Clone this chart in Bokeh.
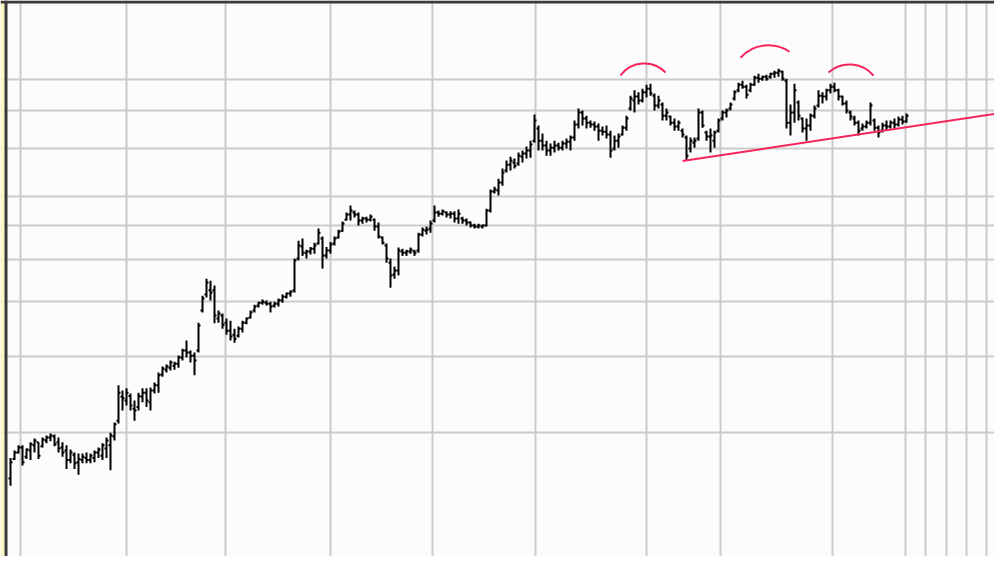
import numpy as np
from bokeh.plotting import figure
from bokeh.models import Range1d, FixedTicker, Span, ColumnDataSource, BoxAnnotation
from bokeh.embed import file_html
from bokeh.resources import INLINE

# ---- daily price bars ----
high = [17.5, 18.2, 18.7, 18.7, 18.4, 19.0, 19.4, 19.0, 19.5, 19.7,
        19.9, 19.8, 19.5, 19.0, 18.7, 18.3, 18.0, 17.9, 17.9, 18.0,
        17.9, 18.2, 18.5, 18.9, 19.5, 20.0, 21.1, 25.7, 25.0, 25.3,
        24.6, 23.7, 24.7, 25.3, 25.3, 25.4, 26.1, 27.5, 28.4, 28.7,
        29.3, 29.1, 30.1, 31.2, 32.6, 30.9, 30.6, 35.8, 41.3, 45.2,
        44.7, 43.6, 38.2, 37.6, 36.6, 36.2, 34.7, 35.1, 36.2, 36.8,
        38.2, 39.4, 40.0, 40.5, 40.3, 40.0, 40.0, 40.7, 41.6, 42.0,
        42.5, 50.3, 55.3, 55.9, 52.7, 53.5, 54.7, 59.0, 56.5, 53.5,
        54.9, 56.5, 58.6, 61.2, 64.2, 66.6, 64.9, 64.2, 62.8, 62.8,
        63.5, 62.2, 60.9, 56.5, 54.5, 50.3, 48.2, 53.3, 53.0, 52.7,
        53.3, 52.7, 57.7, 59.3, 59.6, 61.5, 66.6, 64.9, 65.2, 64.6,
        64.6, 64.6, 65.2, 62.8, 62.2, 61.2, 60.5, 60.5, 60.2, 65.5,
        72.5, 73.6, 76.8, 81.0, 84.5, 86.2, 85.4, 88.2, 89.1, 91.0,
        93.9, 107.8, 101.7, 97.5, 93.9, 92.5, 93.9, 92.9, 93.9, 95.0,
        96.5, 104.5, 111.3, 110.2, 107.2, 104.5, 103.9, 102.8, 101.2, 101.7,
        99.0, 96.5, 97.5, 101.7, 107.2, 119.2, 122.6, 121.3, 123.7, 126.3,
        127.0, 120.5, 119.2, 114.9, 111.3, 107.2, 105.6, 104.5, 100.1, 96.5,
        95.5, 95.5, 111.3, 110.2, 99.0, 100.1, 99.0, 105.6, 110.2, 111.3,
        114.9, 122.6, 127.7, 129.0, 126.3, 127.7, 132.5, 133.9, 132.5, 133.2,
        134.6, 136.0, 137.5, 136.0, 130.4, 113.7, 127.0, 116.1, 106.1, 105.6,
        108.4, 113.1, 122.6, 121.3, 123.7, 127.0, 127.7, 123.7, 119.2, 116.1,
        110.2, 107.2, 104.5, 102.8, 104.5, 114.9, 105.6, 101.7, 103.3, 104.5,
        104.5, 105.6, 106.7, 107.2, 108.4]

low = [15.1, 17.3, 17.9, 16.8, 17.4, 17.3, 18.0, 17.4, 18.5, 18.9,
       19.1, 18.6, 18.0, 17.6, 16.5, 17.0, 16.5, 16.0, 17.0, 17.0,
       17.0, 17.1, 17.5, 17.3, 17.5, 16.4, 19.2, 21.0, 22.5, 23.1,
       22.5, 21.3, 22.5, 23.5, 22.9, 22.5, 24.6, 24.7, 26.9, 27.5,
       27.8, 27.9, 28.2, 29.3, 29.8, 29.0, 27.1, 30.6, 37.8, 40.9,
       40.3, 35.7, 35.8, 34.7, 33.6, 32.6, 32.2, 33.1, 34.0, 35.5,
       36.6, 37.8, 38.8, 39.4, 39.2, 37.8, 38.8, 39.0, 39.8, 40.7,
       41.1, 42.0, 49.8, 51.0, 50.3, 51.4, 51.6, 54.2, 47.7, 50.3,
       51.6, 53.9, 55.9, 58.0, 61.5, 61.5, 62.5, 59.9, 60.5, 60.9,
       61.2, 58.3, 55.9, 54.2, 49.2, 43.1, 45.2, 46.0, 51.0, 51.0,
       51.6, 51.0, 51.9, 56.5, 57.1, 57.7, 60.9, 62.8, 63.2, 62.5,
       62.2, 60.9, 60.5, 60.5, 59.9, 59.3, 59.0, 59.0, 59.0, 59.6,
       64.2, 71.0, 70.2, 74.0, 79.3, 80.2, 81.0, 82.2, 83.6, 85.4,
       85.8, 92.9, 89.1, 89.1, 86.7, 86.7, 88.2, 89.1, 89.1, 90.1,
       89.1, 93.9, 100.1, 101.7, 100.1, 100.6, 99.0, 93.9, 96.5, 95.0,
       85.8, 89.1, 90.5, 96.5, 99.0, 110.2, 109.0, 113.7, 115.0, 118.0,
       119.2, 110.2, 111.3, 104.5, 104.5, 101.7, 99.0, 99.0, 95.5, 84.5,
       88.2, 90.5, 93.9, 100.6, 93.9, 88.2, 90.5, 98.0, 104.5, 106.1,
       110.2, 116.1, 121.3, 123.7, 117.4, 121.3, 125.6, 127.7, 129.0, 129.0,
       130.4, 131.1, 131.8, 129.0, 100.1, 96.5, 103.3, 104.5, 98.0, 93.9,
       99.0, 105.6, 111.9, 114.3, 116.1, 120.5, 121.3, 116.1, 113.1, 108.4,
       104.5, 101.7, 96.5, 99.0, 100.1, 101.7, 99.0, 95.5, 98.0, 99.0,
       100.1, 100.1, 101.2, 102.3, 103.3]

open_ = [15.7, 17.4, 18.0, 18.5, 17.6, 18.2, 18.7, 19.0, 18.6, 19.2,
         19.5, 19.6, 19.0, 18.5, 18.2, 17.3, 17.8, 17.1, 17.3, 17.5,
         17.3, 17.5, 18.0, 17.7, 18.4, 18.7, 19.6, 21.3, 24.2, 23.7,
         24.3, 22.7, 22.9, 24.2, 24.7, 23.5, 25.0, 25.7, 27.2, 27.9,
         28.2, 28.5, 28.8, 29.8, 30.9, 30.6, 30.1, 30.9, 38.2, 41.6,
         42.5, 42.5, 36.6, 37.2, 35.8, 34.3, 33.6, 33.4, 34.7, 35.8,
         36.8, 38.2, 39.2, 39.8, 39.8, 39.6, 39.2, 39.6, 40.3, 41.1,
         41.8, 42.5, 50.3, 53.6, 51.9, 52.2, 53.0, 54.5, 55.9, 51.1,
         52.5, 54.5, 56.2, 58.3, 61.8, 63.5, 64.2, 63.5, 61.5, 62.2,
         61.8, 61.8, 59.6, 56.2, 53.9, 49.2, 46.2, 47.2, 52.2, 51.9,
         52.2, 52.2, 52.5, 57.1, 58.3, 59.0, 61.5, 64.2, 63.8, 64.2,
         63.5, 63.8, 62.2, 62.2, 61.5, 60.9, 59.9, 59.6, 59.6, 59.9,
         64.9, 71.7, 72.1, 75.2, 80.2, 82.7, 83.6, 83.2, 86.2, 87.7,
         89.1, 93.9, 100.1, 93.9, 91.5, 89.1, 90.5, 91.5, 90.5, 92.5,
         93.4, 95.5, 102.3, 109.0, 105.6, 103.3, 102.3, 101.2, 99.0, 98.5,
         97.0, 90.1, 93.9, 97.0, 100.6, 111.3, 116.1, 118.6, 116.1, 121.3,
         123.7, 119.2, 113.1, 113.7, 107.2, 106.7, 103.3, 101.2, 99.0, 95.5,
         90.1, 92.9, 95.0, 109.0, 98.0, 96.0, 93.9, 99.0, 105.6, 109.0,
         111.3, 117.4, 122.6, 126.3, 124.9, 122.6, 126.3, 131.1, 130.4, 131.8,
         131.8, 133.9, 134.6, 135.3, 129.0, 103.3, 109.0, 114.9, 105.6, 100.1,
         101.7, 107.2, 113.1, 119.2, 118.6, 122.6, 124.9, 122.6, 118.6, 114.3,
         109.0, 105.6, 103.3, 100.1, 101.2, 103.3, 104.5, 100.6, 99.0, 101.7,
         101.2, 103.3, 102.3, 105.0, 103.9]

close = [17.1, 18.0, 18.5, 17.1, 18.3, 18.8, 19.2, 17.7, 19.3, 19.5,
         19.7, 18.8, 18.4, 18.0, 17.3, 18.0, 17.0, 17.4, 17.6, 17.3,
         17.7, 18.0, 18.3, 18.7, 19.2, 19.7, 20.9, 24.7, 24.0, 24.7,
         23.1, 22.5, 24.3, 24.7, 23.7, 25.0, 25.7, 27.1, 28.1, 28.4,
         29.0, 28.8, 29.8, 30.9, 30.6, 30.0, 29.3, 35.3, 40.7, 44.3,
         42.0, 37.2, 37.6, 35.4, 34.3, 33.3, 32.9, 34.7, 35.8, 36.6,
         37.8, 39.0, 39.8, 40.0, 39.6, 39.0, 39.6, 40.3, 41.1, 41.8,
         42.2, 49.8, 53.9, 51.9, 52.2, 53.0, 53.9, 57.7, 51.1, 52.5,
         54.2, 55.9, 58.0, 60.5, 63.5, 64.9, 63.5, 61.5, 62.2, 61.8,
         62.8, 59.6, 56.5, 54.7, 50.3, 46.0, 47.2, 52.5, 51.9, 52.2,
         52.7, 51.9, 57.1, 58.6, 58.6, 60.5, 64.2, 63.8, 64.6, 63.5,
         63.8, 62.2, 63.8, 61.5, 60.9, 59.9, 59.6, 59.9, 59.9, 64.9,
         71.7, 72.5, 75.2, 79.3, 82.7, 84.5, 82.2, 86.7, 87.7, 89.1,
         92.0, 104.5, 93.9, 91.5, 89.1, 90.5, 91.5, 90.5, 92.5, 93.4,
         95.5, 102.3, 109.0, 105.6, 103.3, 102.3, 101.2, 99.0, 98.5, 97.0,
         89.1, 93.9, 96.0, 100.6, 105.6, 117.4, 118.6, 116.1, 121.3, 123.7,
         120.5, 113.1, 116.1, 107.2, 109.0, 103.3, 101.2, 103.3, 97.0, 86.7,
         93.9, 93.9, 109.0, 101.7, 96.0, 96.5, 98.0, 104.5, 109.0, 110.2,
         113.7, 121.3, 126.3, 124.9, 119.8, 126.3, 131.1, 130.4, 131.8, 130.4,
         133.9, 134.6, 136.0, 130.4, 103.3, 109.0, 122.6, 107.2, 100.1, 101.7,
         107.2, 111.3, 119.2, 118.6, 122.6, 124.9, 122.6, 118.6, 114.3, 110.2,
         106.7, 103.3, 99.0, 101.2, 103.3, 113.1, 100.6, 98.0, 101.7, 101.2,
         103.3, 102.3, 105.0, 103.9, 107.2]

# period separators (in bar numbers) and price grid levels
period_breaks = [2.5, 29, 53.75, 80, 105.5, 131.25, 159, 177.5, 205.5,
                 223.75, 228.75, 234, 239, 244]
price_levels = [10, 20, 30, 40, 50, 60, 70, 90, 110, 130]

# hand-drawn annotations: rising neckline and three "tops"
trend_bars = [168, 246.5]
trend_prices = [84.3, 108.4]
arc_bar = [158.45, 189.5, 209.75]
arc_price = [120.8, 127.5, 119.1]
arc_radius_px = [29.6, 37.6, 31.4]
arc_start_deg = [44.0, 56.0, 40.0]
arc_end_deg = [143.5, 138.0, 132.0]

bar = list(range(len(high)))
src = ColumnDataSource(dict(
    x=bar, high=high, low=low, open=open_, close=close,
    xl=[b - 0.5 for b in bar], xr=[b + 0.5 for b in bar],
))

BG = "#fcfcfc"
RED = "#f5245c"
X0, X1 = -2.5, 246.0
Y0, Y1 = 10.38, 197.3

p = figure(width=994, height=556,
           x_range=Range1d(X0, X1), y_range=Range1d(Y0, Y1),
           y_axis_type="log", toolbar_location=None, output_backend="svg",
           min_border=0, background_fill_color=BG, border_fill_color=BG,
           outline_line_color=None)

p.xaxis.visible = False
p.yaxis.visible = False
p.xgrid.ticker = FixedTicker(ticks=period_breaks)
p.ygrid.ticker = FixedTicker(ticks=price_levels)
p.xgrid.minor_grid_line_color = None
p.ygrid.minor_grid_line_color = None
for g in (p.xgrid, p.ygrid):
    g.grid_line_color = "#cbcbcb"
    g.grid_line_width = 2

# pale strip at the far left of the chart window
p.add_layout(BoxAnnotation(left=X0, right=X0 + 1.0, fill_color="#fbf8c4",
                           fill_alpha=1.0, line_color=None, level="underlay"))

# OHLC bars
p.segment(x0="x", y0="low", x1="x", y1="high", source=src,
          line_color="black", line_width=2)
p.segment(x0="xl", y0="open", x1="x", y1="open", source=src,
          line_color="black", line_width=2)
p.segment(x0="x", y0="close", x1="xr", y1="close", source=src,
          line_color="black", line_width=2)

# annotations
p.line(trend_bars, trend_prices, line_color=RED, line_width=2)
p.arc(x=arc_bar, y=arc_price, radius=arc_radius_px, radius_units="screen",
      start_angle=list(np.radians(arc_start_deg)),
      end_angle=list(np.radians(arc_end_deg)),
      direction="anticlock", line_color=RED, line_width=2)

# frame borders (left and top)
p.add_layout(Span(location=X0 + 1.375, dimension="height",
                  line_color="#3a3a3a", line_width=3))
p.add_layout(Span(location=195.7, dimension="width",
                  line_color="#3a3a3a", line_width=3))

open("out.html", "w").write(file_html(p, INLINE))
